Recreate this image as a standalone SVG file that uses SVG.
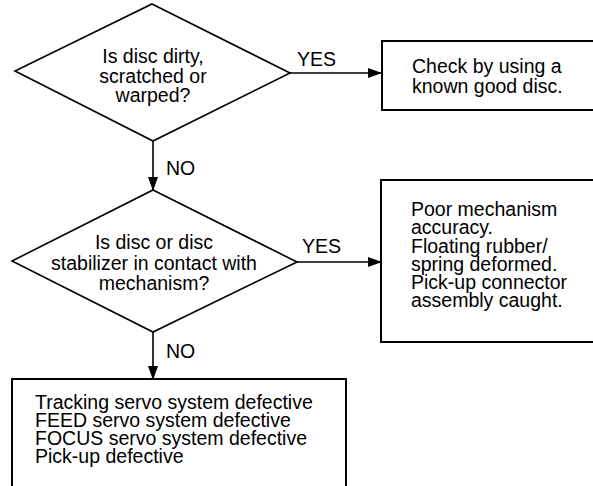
<svg xmlns="http://www.w3.org/2000/svg" width="593" height="486" viewBox="0 0 593 486">
<style>
.shape{fill:#fff;stroke:#000;stroke-width:1.6}
.box{fill:#fff;stroke:#000;stroke-width:2}
.t{font-family:"Liberation Sans",Arial,sans-serif;font-size:19.5px;fill:#000}
.c{text-anchor:middle}
.edge{stroke:#000;stroke-width:1.6;fill:none}
</style>
<defs>
<marker id="arr" markerUnits="userSpaceOnUse" markerWidth="14" markerHeight="10" refX="13" refY="5" orient="auto">
<path d="M0,0 L14,5 L0,10 z" fill="#000"/>
</marker>
</defs>
<rect width="593" height="486" fill="#fff"/>
<g id="connectors">
<line class="edge" x1="290" y1="73" x2="381" y2="73" marker-end="url(#arr)"/>
<line class="edge" x1="153" y1="141" x2="153" y2="190" marker-end="url(#arr)"/>
<line class="edge" x1="297" y1="262" x2="381" y2="262" marker-end="url(#arr)"/>
<line class="edge" x1="153" y1="332" x2="153" y2="379" marker-end="url(#arr)"/>
<text class="t" x="297" y="66">YES</text>
<text class="t" x="166" y="175">NO</text>
<text class="t" x="302" y="253">YES</text>
<text class="t" x="166" y="358">NO</text>
</g>
<g id="q1">
<polygon class="shape" points="152,4 290,73 153,141 15,71"/>
<text class="t c" x="153" y="63">Is disc dirty,</text>
<text class="t c" x="153" y="83">scratched or</text>
<text class="t c" x="153" y="102">warped?</text>
</g>
<g id="r1">
<rect class="box" x="382" y="41" width="230" height="69"/>
<text class="t" x="412" y="73">Check by using a</text>
<text class="t" x="412" y="93">known good disc.</text>
</g>
<g id="q2">
<polygon class="shape" points="153,190 297,262 153,332 12,261"/>
<text class="t c" x="154" y="249">Is disc or disc</text>
<text class="t c" x="154" y="270">stabilizer in contact with</text>
<text class="t c" x="154" y="290">mechanism?</text>
</g>
<g id="r2">
<rect class="box" x="381" y="180" width="230" height="162"/>
<text class="t" x="411" y="216">Poor mechanism</text>
<text class="t" x="411" y="234">accuracy.</text>
<text class="t" x="411" y="253">Floating rubber/</text>
<text class="t" x="411" y="271">spring deformed.</text>
<text class="t" x="411" y="289">Pick-up connector</text>
<text class="t" x="411" y="307">assembly caught.</text>
</g>
<g id="r3">
<rect class="box" x="12" y="379" width="334" height="130"/>
<text class="t" x="35" y="409">Tracking servo system defective</text>
<text class="t" x="35" y="427">FEED servo system defective</text>
<text class="t" x="35" y="445">FOCUS servo system defective</text>
<text class="t" x="35" y="463">Pick-up defective</text>
</g>
</svg>
